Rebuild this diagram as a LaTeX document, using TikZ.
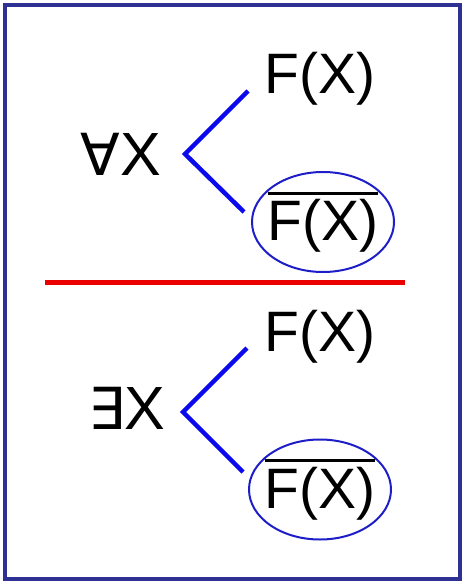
\documentclass[tikz,border=0pt]{standalone}
\usepackage{fontspec}
\setmainfont{Liberation Sans}
\newfontfamily\quantfont{DejaVu Sans}
\usetikzlibrary{shapes.geometric}
\definecolor{framecol}{RGB}{46,49,146}
\definecolor{forkcol}{RGB}{10,10,235}
\definecolor{ringcol}{RGB}{30,30,200}
\definecolor{rulecol}{RGB}{235,0,0}
\newcommand\negbar[1]{\vbox{\hrule height 3pt\kern 4.5pt\hbox{#1}}}
\tikzset{
  quant/.style={font=\fontsize{61}{64}\selectfont, inner sep=0pt},
  formula/.style={font=\fontsize{57}{60}\selectfont, inner sep=0pt, anchor=base},
  fork/.style={draw=forkcol, line width=4.5pt},
  ring/.style={ellipse, draw=ringcol, line width=2pt, font=\fontsize{57}{60}\selectfont,
    inner xsep=-6pt, inner ysep=0pt, minimum width=142pt, minimum height=100pt}
}
\begin{document}
\begin{tikzpicture}[x=1pt,y=1pt,yscale=-1,xscale=1]
\useasboundingbox (0,0) rectangle (466,586);

%Shape: Frame
\draw [framecol, line width=4.5pt] (5,5) rectangle (460,579);
%Straight Lines: separator
\draw [rulecol, line width=4.5pt] (45,282.5) -- (405,282.5);

% Text Node
\node [quant] (forall) at (121,154) {{\quantfont\fontsize{58}{60}\selectfont ∀}X};
% Text Node
\node [formula] (fa) at (320,93.3) {F(X)};
% Text Node
\node [ring] (nfa) at (323,222) {\negbar{F(X)}};

% Text Node
\node [quant] (exists) at (127,408) {{\quantfont\fontsize{58}{60}\selectfont ∃}X};
% Text Node
\node [formula] (fe) at (320,351.7) {F(X)};
% Text Node
\node [ring] (nfe) at (320,489.5) {\negbar{F(X)}};

%Straight Lines: fork of forall
\coordinate (va) at (185,154);
\coordinate (va1) at (248,91);
\coordinate (va2) at (244,212);
\draw [fork] (va1) -- (va) -- (va2);

%Straight Lines: fork of exists
\coordinate (ve) at (183,412);
\coordinate (ve1) at (247,348);
\coordinate (ve2) at (243,472);
\draw [fork] (ve1) -- (ve) -- (ve2);

\end{tikzpicture}
\end{document}
